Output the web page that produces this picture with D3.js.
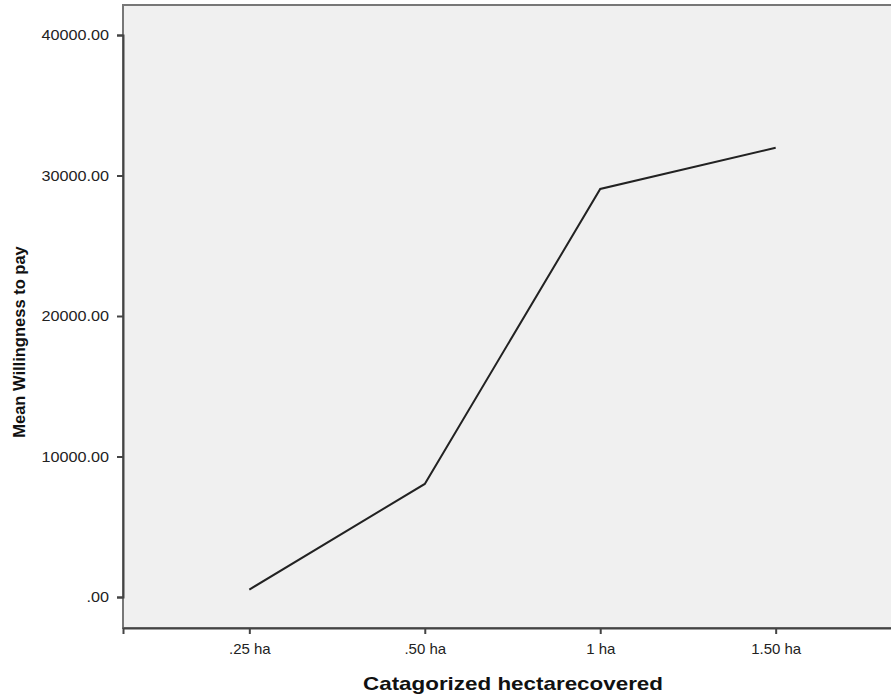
<!DOCTYPE html>
<html><head><meta charset="utf-8">
<script src="https://cdn.jsdelivr.net/npm/d3@7"></script>
<style>body{margin:0;background:#fff;} svg{display:block;}</style>
</head><body>
<svg id="c" width="891" height="697"></svg>
<script>
const categories = [".25 ha", ".50 ha", "1 ha", "1.50 ha"];
const meanWTP = [530, 8050, 29040, 31970];
const yTicks = [0, 10000, 20000, 30000, 40000];

const svg = d3.select("#c");
const L = 123, T = 5, R = 902, B = 628;
const x = d3.scalePoint().domain(categories).range([L, R]).padding(0.72);
const y = d3.scaleLinear().domain([0, 40000]).range([597, 35]);

svg.append("rect").attr("x", L).attr("y", T).attr("width", R - L).attr("height", B - T)
  .attr("fill", "#f0f0f0").attr("stroke", "#777").attr("stroke-width", 2);

const font = "'Liberation Sans', Arial, sans-serif";
const yAxis = svg.append("g").attr("transform", `translate(${L},0)`)
  .call(d3.axisLeft(y).tickValues(yTicks).tickSize(6).tickPadding(8)
    .tickFormat(d => d === 0 ? ".00" : d3.format(".2f")(d)));
const xAxis = svg.append("g").attr("transform", `translate(0,${B})`)
  .call(d3.axisBottom(x).tickSize(6).tickPadding(9));
[yAxis, xAxis].forEach(g => {
  g.select(".domain").attr("stroke", "#444").attr("stroke-width", 2);
  g.selectAll(".tick line").attr("stroke", "#444").attr("stroke-width", 2);
  g.selectAll(".tick text").attr("font-family", font).attr("font-size", 15).attr("fill", "#222")
    .attr("transform", "scale(1.08,1)");
});
// keep scaled labels anchored at their original positions
yAxis.selectAll(".tick text").attr("transform", null).each(function () {
  const t = d3.select(this); const xx = +t.attr("x");
  t.attr("transform", `translate(${xx},0) scale(1.08,1) translate(${-xx},0)`);
});
xAxis.selectAll(".tick text").attr("transform", "scale(1.08,1)").attr("transform", null)
  .attr("textLength", null);

const line = d3.line().x((d, i) => x(categories[i])).y(d => y(d));
svg.append("path").datum(meanWTP).attr("d", line).attr("fill", "none")
  .attr("stroke", "#222").attr("stroke-width", 2);

svg.append("text").attr("x", 513).attr("y", 690).attr("text-anchor", "middle")
  .attr("font-family", font).attr("font-weight", "bold").attr("font-size", 19).attr("fill", "#111")
  .attr("textLength", 300).attr("lengthAdjust", "spacingAndGlyphs")
  .text("Catagorized hectarecovered");
svg.append("text").attr("transform", "translate(25,342) rotate(-90)").attr("text-anchor", "middle")
  .attr("font-family", font).attr("font-weight", "bold").attr("font-size", 16.5).attr("fill", "#111")
  .text("Mean Willingness to pay");
</script>
</body></html>
